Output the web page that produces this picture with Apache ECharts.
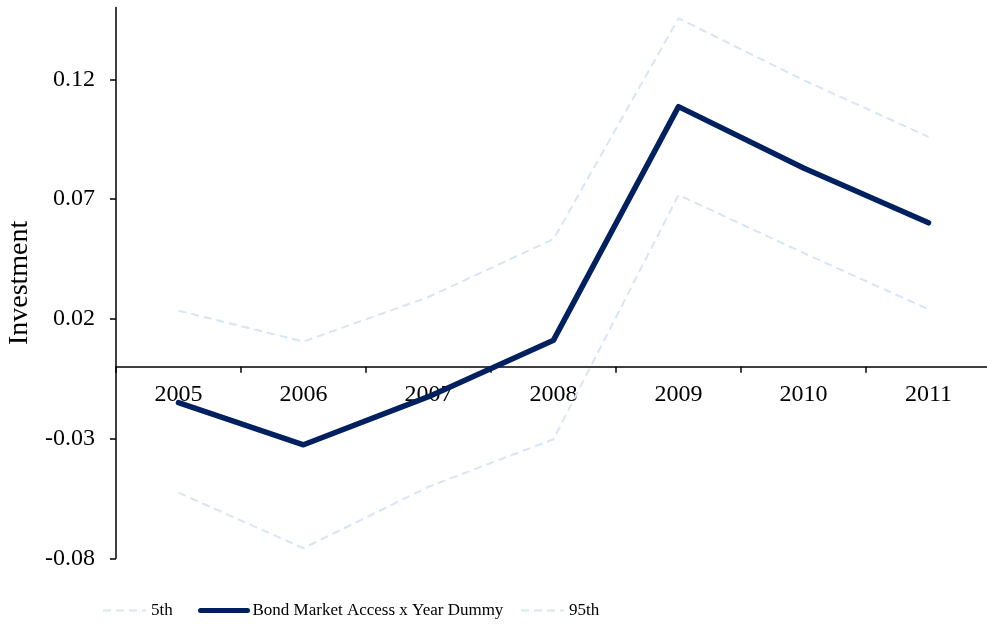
<!DOCTYPE html>
<html>
<head>
<meta charset="utf-8">
<script src="https://cdn.jsdelivr.net/npm/echarts@6/dist/echarts.min.js"></script>
<style>html,body{margin:0;padding:0;background:#fff}#c{width:987px;height:628px}</style>
</head>
<body>
<div id="c"></div>
<script>
const years = ['2005','2006','2007','2008','2009','2010','2011'];
const p5 = [-0.0526, -0.0758, -0.0501, -0.0303, 0.0717, 0.0475, 0.0240];
const mainVals = [-0.0150, -0.0326, -0.0125, 0.0111, 0.1086, 0.0830, 0.0601];
const p95 = [0.0234, 0.0105, 0.0291, 0.0533, 0.1455, 0.1197, 0.0960];
const yTicks = [-0.08, -0.03, 0.02, 0.07, 0.12];
const names = ['5th', 'Bond Market Access x Year Dummy', '95th'];

const FONT = 'Liberation Serif';
const light = '#d8e5f4';
const navy = '#002060';
const chart = echarts.init(document.getElementById('c'));
const legendBase = {
  top: 602, itemHeight: 14, itemGap: 0, padding: 0,
  itemStyle: {opacity: 0},
  textStyle: {fontFamily: FONT, fontSize: 17, color: '#000'}
};
chart.setOption({
  animation: false,
  backgroundColor: '#fff',
  grid: {left: 116, top: 7.5, width: 875, bottom: 69.7, containLabel: false, outerBoundsMode: 'none'},
  legend: [
    Object.assign({}, legendBase, {left: 102, itemWidth: 43, data: [names[0]],
      lineStyle: {width: 2}}),
    Object.assign({}, legendBase, {left: 198, itemWidth: 47, data: [names[1]],
      lineStyle: {width: 5, cap: 'round'}}),
    Object.assign({}, legendBase, {left: 520, itemWidth: 43, data: [names[2]],
      lineStyle: {width: 2}})
  ],
  xAxis: {
    type: 'category', data: years, boundaryGap: true,
    axisLine: {onZero: false, lineStyle: {color: '#000', width: 1.5}},
    axisTick: {show: true, length: 6, lineStyle: {color: '#000', width: 1.5}},
    axisLabel: {fontFamily: FONT, fontSize: 24, color: '#000', margin: 16},
    splitLine: {show: false}
  },
  yAxis: {
    type: 'value', min: -0.08, max: 0.15,
    name: 'Investment', nameLocation: 'middle', nameGap: 80,
    nameTextStyle: {fontFamily: FONT, fontSize: 28, color: '#000'},
    axisLine: {show: true, lineStyle: {color: '#000', width: 1.5}},
    axisTick: {show: true, length: 6, customValues: yTicks, lineStyle: {color: '#000', width: 1.5}},
    axisLabel: {fontFamily: FONT, fontSize: 24, color: '#000', margin: 21, customValues: yTicks,
      formatter: v => String(v)},
    splitLine: {show: false}
  },
  series: [
    {name: names[0], type: 'line', data: p5, symbol: 'none', z: 2,
     lineStyle: {color: light, width: 2, type: [8, 5]}, itemStyle: {color: light}},
    {name: names[1], type: 'line', data: mainVals, symbol: 'none', z: 5,
     lineStyle: {color: navy, width: 5.5, cap: 'round', join: 'round'}, itemStyle: {color: navy}},
    {name: names[2], type: 'line', data: p95, symbol: 'none', z: 2,
     lineStyle: {color: light, width: 2, type: [8, 5]}, itemStyle: {color: light}}
  ]
});
// place the x axis on the zero line of the value scale
const zeroPx = chart.convertToPixel({yAxisIndex: 0}, 0);
const bottomPx = chart.convertToPixel({yAxisIndex: 0}, -0.08);
chart.setOption({xAxis: {offset: -(bottomPx - zeroPx)}});
</script>
</body>
</html>
